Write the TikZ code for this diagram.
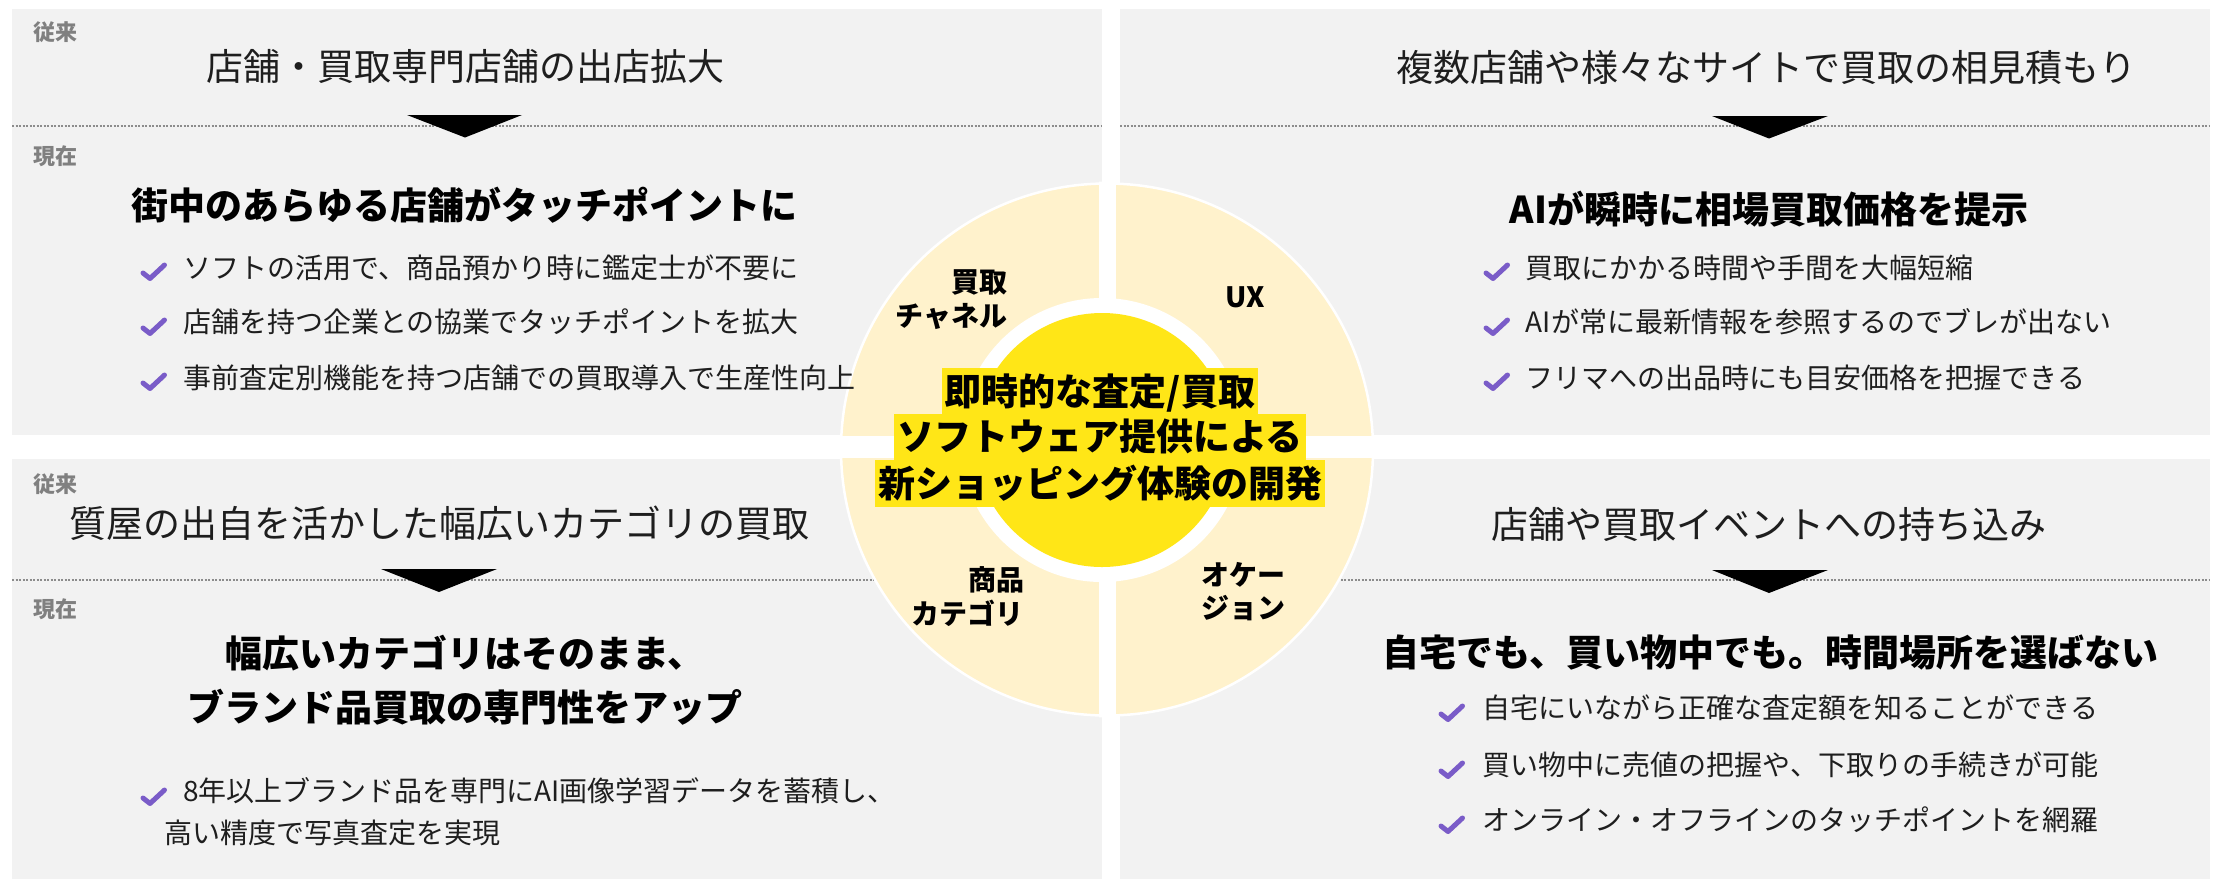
\documentclass[tikz,border=0pt]{standalone}
\usepackage{fontspec}
\setmainfont{Noto Sans CJK JP}
\definecolor{panelgrey}{HTML}{F2F2F2}
\definecolor{quadyellow}{HTML}{FFF2CC}
\definecolor{centeryellow}{HTML}{FFE617}
\definecolor{taggrey}{HTML}{808080}
\definecolor{dashgrey}{HTML}{8C8C8C}
\definecolor{checkpurple}{HTML}{7A5CC8}
\definecolor{ink}{HTML}{1E1E1E}
\begin{document}
\begin{tikzpicture}[x=1pt,y=-1pt,
  panel/.style={fill=panelgrey},
  tag/.style={font=\fontsize{22}{26}\selectfont\bfseries, text=taggrey, inner sep=0pt, anchor=west, text height=19.4pt, text depth=2.6pt},
  title/.style={font=\fontsize{37}{44}\selectfont, text=ink, inner sep=0pt, text height=32.6pt, text depth=4.4pt},
  heading/.style={font=\fontsize{37}{44}\selectfont\bfseries, text=black, inner sep=0pt, text height=32.6pt, text depth=4.4pt},
  item/.style={font=\fontsize{28}{34}\selectfont, text=ink, inner sep=0pt, anchor=west, text height=24.6pt, text depth=3.4pt},
  quad/.style={font=\fontsize{28}{34}\selectfont\bfseries, text=black, inner sep=0pt, text height=24.6pt, text depth=3.4pt},
  hl/.style={font=\fontsize{37}{44}\selectfont\bfseries, text=black, fill=centeryellow, inner xsep=3pt, inner ysep=0pt, text height=32.6pt, text depth=4.4pt, minimum height=46.5pt},
  downtri/.style={fill=black},
  sepline/.style={draw=dashgrey, line width=1.2pt, dash pattern=on 2pt off 1.5pt},
  chk/.pic={\draw[draw=checkpurple, line width=5pt, line cap=round, line join=round] (-11,2) -- (-4,7.5) -- (10.5,-6);}
]
\useasboundingbox (0,0) rectangle (2216,879);
\fill[white] (0,0) rectangle (2216,879);
% panels
\fill[panel] (12,9) rectangle (1102,435);
\fill[panel] (1120,9) rectangle (2210,435);
\fill[panel] (12,459) rectangle (1102,879);
\fill[panel] (1120,459) rectangle (2210,879);
% separators
\draw[sepline] (12,126) -- (1102,126);
\draw[sepline] (1120,126) -- (2210,126);
\draw[sepline] (12,580) -- (1102,580);
\draw[sepline] (1120,580) -- (2210,580);
% triangles
\fill[downtri] (407,115) -- (522,115) -- (465,137.5) -- cycle;
\fill[downtri] (1712,116) -- (1828,116) -- (1769,138.5) -- cycle;
\fill[downtri] (381,569) -- (497,569) -- (439,592) -- cycle;
\fill[downtri] (1712,570) -- (1828,570) -- (1769,593) -- cycle;
% circle
\coordinate (oc) at (1107,449.5);
\coordinate (ic) at (1102,440);
\fill[quadyellow] (oc) circle (266);
\draw[white, line width=2.5pt] (oc) circle (266);
\begin{scope}
  \clip (oc) circle (268);
  \fill[white] (1099,0) rectangle (1116,879);
  \fill[white] (0,436) rectangle (2216,458);
\end{scope}
\fill[white] (ic) circle (142);
\fill[centeryellow] (ic) circle (127);
% center text
\node[hl] (c1) at (1100,391.3) {即時的な査定/買取};
\node[hl] (c2) at (1100,436.8) {ソフトウェア提供による};
\node[hl] (c3) at (1100,483.5) {新ショッピング体験の開発};
% quadrant labels
\node[quad, anchor=east] (q1a) at (1007.5,282) {買取};
\node[quad, anchor=east] (q1b) at (1007.5,316) {チャネル};
\node[quad] (q2) at (1245,296.5) {UX};
\node[quad, anchor=east] (q3a) at (1025,580) {商品};
\node[quad, anchor=east] (q3b) at (1024,614) {カテゴリ};
\node[quad, anchor=west] (q4a) at (1201,574.6) {オケー};
\node[quad, anchor=west] (q4b) at (1201,608) {ジョン};
% top-left panel
\node[tag] (tl0) at (33,32) {従来};
\node[title] (tlt) at (465.5,66) {店舗・買取専門店舗の出店拡大};
\node[tag] (tl1) at (33,156) {現在};
\node[heading] (tlh) at (464,205) {街中のあらゆる店舗がタッチポイントに};
\pic at (154,271) {chk};
\pic at (154,326) {chk};
\pic at (154,381) {chk};
\node[item] (tla) at (183,267.5) {ソフトの活用で、商品預かり時に鑑定士が不要に};
\node[item] (tlb) at (183,322) {店舗を持つ企業との協業でタッチポイントを拡大};
\node[item] (tlc) at (183,377.5) {事前査定別機能を持つ店舗での買取導入で生産性向上};
% top-right panel
\node[title] (trt) at (1766.7,67) {複数店舗や様々なサイトで買取の相見積もり};
\node[heading] (trh) at (1769,209) {AIが瞬時に相場買取価格を提示};
\pic at (1497,271) {chk};
\pic at (1497,326) {chk};
\pic at (1497,381) {chk};
\node[item] (tra) at (1525.6,267.5) {買取にかかる時間や手間を大幅短縮};
\node[item] (trb) at (1525.6,322) {AIが常に最新情報を参照するのでブレが出ない};
\node[item] (trc) at (1525.6,377.5) {フリマへの出品時にも目安価格を把握できる};
% bottom-left panel
\node[tag] (bl0) at (33,484) {従来};
\node[title] (blt) at (439.5,523.5) {質屋の出自を活かした幅広いカテゴリの買取};
\node[tag] (bl1) at (33,609) {現在};
\node[heading] (blh1) at (465,653) {幅広いカテゴリはそのまま、};
\node[heading] (blh2) at (465,707) {ブランド品買取の専門性をアップ};
\pic at (154,796) {chk};
\node[item] (bla) at (183,791) {8年以上ブランド品を専門にAI画像学習データを蓄積し、};
\node[item] (blb) at (164,832.5) {高い精度で写真査定を実現};
% bottom-right panel
\node[title] (brt) at (1768.8,524) {店舗や買取イベントへの持ち込み};
\node[heading] (brh) at (1770.6,652) {自宅でも、買い物中でも。時間場所を選ばない};
\pic at (1452,712) {chk};
\pic at (1452,769) {chk};
\pic at (1452,824) {chk};
\node[item] (bra) at (1482.7,708) {自宅にいながら正確な査定額を知ることができる};
\node[item] (brb) at (1482.7,765) {買い物中に売値の把握や、下取りの手続きが可能};
\node[item] (brc) at (1482.7,820) {オンライン・オフラインのタッチポイントを網羅};
\end{tikzpicture}
\end{document}
